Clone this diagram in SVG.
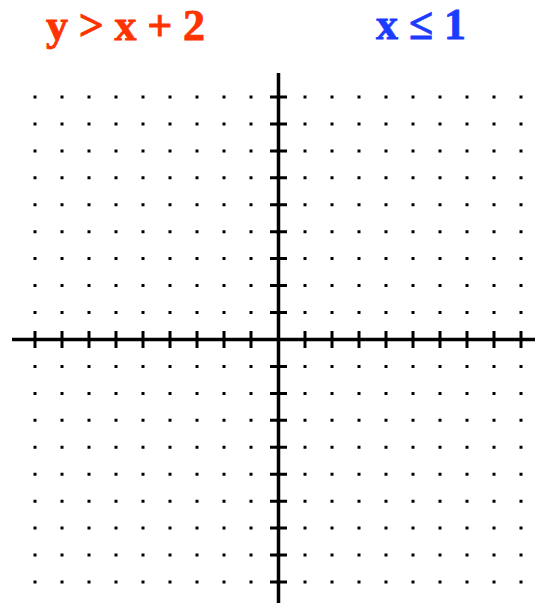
<svg xmlns="http://www.w3.org/2000/svg" width="535" height="603" viewBox="0 0 535 603">
<style>
.lbl{font-family:"Liberation Serif","Times New Roman",serif;font-weight:bold;font-size:44px;stroke-width:0.8}
.red{fill:#ff3300;stroke:#ff3300}
.blue{fill:#1a3cff;stroke:#1a3cff}
.dots{stroke:#000;stroke-width:3;stroke-dasharray:3 24;fill:none}
.axis{stroke:#000;stroke-width:3.5;fill:none}
.tick{stroke:#000;stroke-width:3;fill:none}
</style>
<rect width="535" height="603" fill="#fff"/>
<g id="labels">
<text class="lbl red" x="46" y="40" textLength="159" lengthAdjust="spacing">y &gt; x + 2</text>
<text class="lbl blue" x="376" y="39" textLength="90" lengthAdjust="spacing">x ≤ 1</text>
</g>
<g id="grid" class="dots">
<path d="M33.5 97H523.5M33.5 123.9H523.5M33.5 150.9H523.5M33.5 177.8H523.5M33.5 204.7H523.5M33.5 231.7H523.5M33.5 258.6H523.5M33.5 285.6H523.5M33.5 312.6H523.5M33.5 366.4H523.5M33.5 393.4H523.5M33.5 420.3H523.5M33.5 447.3H523.5M33.5 474.2H523.5M33.5 501.2H523.5M33.5 528.1H523.5M33.5 555H523.5M33.5 582H523.5"/>
</g>
<g id="axes">
<path class="axis" d="M12 339.5H535M278.5 73V603"/>
<path class="tick" d="M35 331V348M62 331V348M89 331V348M116 331V348M143 331V348M170 331V348M197 331V348M224 331V348M251 331V348M305 331V348M332 331V348M359 331V348M386 331V348M413 331V348M440 331V348M467 331V348M494 331V348M521 331V348"/>
<path class="tick" d="M270 97H287M270 123.9H287M270 150.9H287M270 177.8H287M270 204.7H287M270 231.7H287M270 258.6H287M270 285.6H287M270 312.6H287M270 366.4H287M270 393.4H287M270 420.3H287M270 447.3H287M270 474.2H287M270 501.2H287M270 528.1H287M270 555H287M270 582H287"/>
</g>
</svg>
